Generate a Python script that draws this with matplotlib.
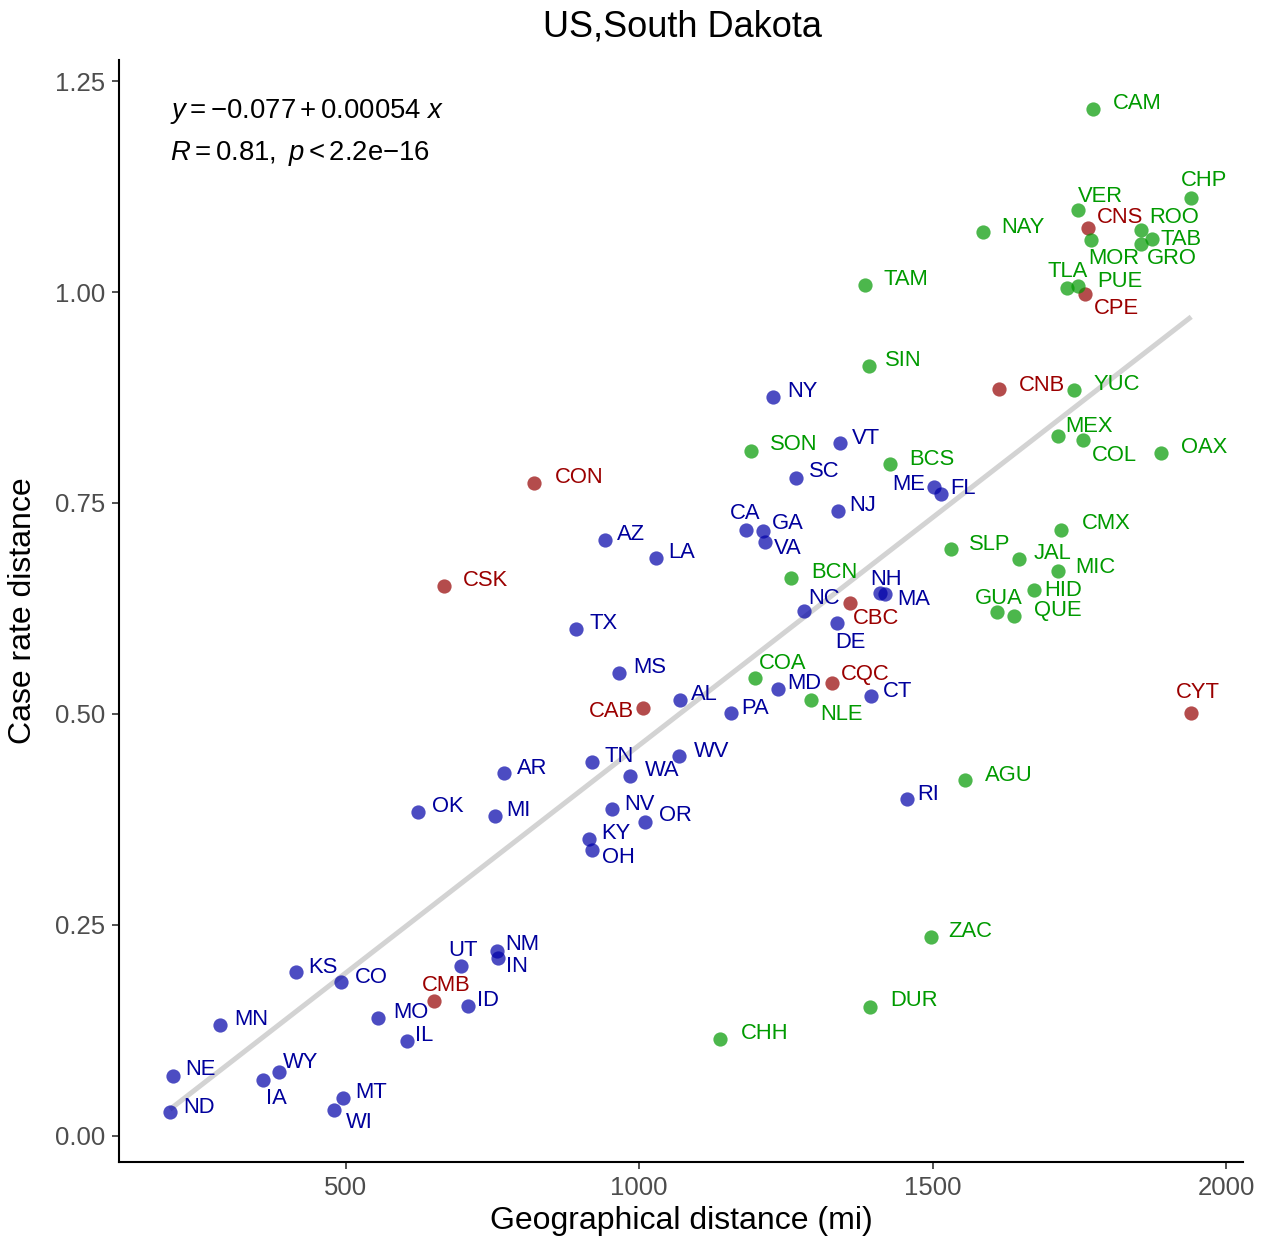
import numpy as np
import matplotlib.pyplot as plt

plt.rcParams['font.family'] = ['Liberation Sans', 'DejaVu Sans']
plt.rcParams['mathtext.fontset'] = 'custom'
plt.rcParams['mathtext.rm'] = 'Liberation Sans'
plt.rcParams['mathtext.it'] = 'Liberation Sans:italic'

# US states
us_names = ['ND', 'NE', 'MN', 'IA', 'WY', 'KS', 'CO', 'WI', 'MT', 'MO', 'IL', 'UT',
            'NM', 'IN', 'ID', 'OK', 'MI', 'AR', 'TN', 'WA', 'WV', 'NV', 'OR', 'KY',
            'OH', 'MS', 'AL', 'PA', 'MD', 'CT', 'TX', 'AZ', 'LA', 'CA', 'GA', 'VA',
            'NC', 'DE', 'NH', 'MA', 'NJ', 'SC', 'VT', 'NY', 'ME', 'FL', 'RI']
us_geo = [201, 206, 286, 359, 386, 415, 492, 480, 495, 556, 605, 697,
          757, 759, 709, 624, 755, 770, 920, 985, 1068, 954, 1010, 915,
          920, 966, 1070, 1156, 1236, 1395, 893, 942, 1029, 1182, 1211, 1214,
          1281, 1337, 1410, 1418, 1338, 1267, 1342, 1228, 1502, 1514, 1456]
us_case = [0.028, 0.071, 0.131, 0.066, 0.076, 0.194, 0.182, 0.031, 0.045, 0.140, 0.113, 0.201,
           0.219, 0.211, 0.154, 0.384, 0.379, 0.430, 0.443, 0.427, 0.450, 0.387, 0.372, 0.352,
           0.339, 0.549, 0.517, 0.501, 0.530, 0.521, 0.601, 0.706, 0.685, 0.718, 0.717, 0.704,
           0.622, 0.608, 0.643, 0.642, 0.741, 0.780, 0.821, 0.876, 0.769, 0.761, 0.399]

# Canadian provinces
ca_names = ['CSK', 'CON', 'CAB', 'CMB', 'CQC', 'CBC', 'CNB', 'CNS', 'CPE', 'CYT']
ca_geo = [668, 820, 1007, 651, 1328, 1359, 1612, 1765, 1759, 1940]
ca_case = [0.652, 0.774, 0.507, 0.160, 0.537, 0.632, 0.885, 1.076, 0.998, 0.501]

# Mexican states
mx_names = ['CAM', 'CHP', 'VER', 'NAY', 'ROO', 'TAB', 'GRO', 'MOR', 'TLA', 'PUE',
            'TAM', 'SIN', 'YUC', 'MEX', 'COL', 'OAX', 'SON', 'BCS', 'CMX', 'SLP',
            'JAL', 'MIC', 'HID', 'GUA', 'QUE', 'BCN', 'COA', 'NLE', 'AGU', 'ZAC',
            'DUR', 'CHH']
mx_geo = [1772, 1940, 1748, 1585, 1854, 1874, 1855, 1770, 1728, 1747,
          1384, 1391, 1740, 1713, 1755, 1888, 1190, 1427, 1718, 1531,
          1646, 1713, 1673, 1610, 1638, 1259, 1197, 1293, 1554, 1497,
          1393, 1138]
mx_case = [1.217, 1.111, 1.097, 1.071, 1.073, 1.063, 1.057, 1.062, 1.005, 1.007,
           1.008, 0.912, 0.884, 0.829, 0.825, 0.809, 0.812, 0.796, 0.718, 0.695,
           0.684, 0.669, 0.647, 0.621, 0.616, 0.661, 0.543, 0.517, 0.422, 0.236,
           0.153, 0.115]

intercept = -0.077
slope = 0.00054

# label offsets in pixels (right, down) from each point
offsets = {
    'ND': (29, -7), 'NE': (27, -8), 'MN': (31, -8), 'IA': (14, 16), 'WY': (22, -11),
    'KS': (27, -7), 'CO': (30, -7), 'WI': (25, 11), 'MT': (28, -7), 'MO': (32, -7),
    'IL': (17, -7), 'UT': (2, -18), 'NM': (26, -9), 'IN': (19, 7), 'ID': (20, -7),
    'CMB': (12, -17), 'OK': (29, -7), 'MI': (23, -8), 'AR': (28, -7), 'TN': (27, -8),
    'WA': (32, -7), 'WV': (32, -7), 'NV': (27, -7), 'OR': (30, -8), 'KY': (27, -7),
    'OH': (26, 6), 'MS': (30, -7), 'CAB': (-32, 1), 'AL': (24, -7), 'PA': (24, -7),
    'MD': (26, -7), 'CT': (26, -7), 'CQC': (33, -10), 'COA': (28, -16), 'NLE': (30, 13),
    'TX': (27, -7), 'AZ': (26, -8), 'LA': (25, -7), 'CA': (-1, -18), 'GA': (25, -9),
    'VA': (23, 5), 'NC': (20, -15), 'DE': (13, 18), 'NH': (6, -16), 'MA': (29, 3),
    'CBC': (26, 14), 'BCN': (43, -8), 'NJ': (25, -7), 'SC': (28, -8), 'VT': (26, -7),
    'SON': (43, -8), 'BCS': (42, -7), 'ME': (-25, -4), 'FL': (22, -7), 'NY': (29, -7),
    'CON': (46, -7), 'CSK': (41, -7), 'RI': (21, -7), 'AGU': (44, -6), 'ZAC': (39, -7),
    'DUR': (44, -8), 'CHH': (44, -7), 'CYT': (7, -23), 'SIN': (34, -8), 'TAM': (41, -8),
    'NAY': (40, -7), 'CAM': (45, -7), 'VER': (22, -16), 'CNS': (32, -12), 'ROO': (33, -15),
    'CHP': (13, -20), 'TAB': (29, -1), 'GRO': (31, 13), 'MOR': (22, 17), 'TLA': (1, -18),
    'PUE': (42, -7), 'CPE': (32, 13), 'CNB': (43, -6), 'YUC': (43, -7), 'MEX': (31, -12),
    'COL': (32, 14), 'OAX': (43, -8), 'CMX': (45, -8), 'SLP': (39, -7), 'JAL': (34, -7),
    'MIC': (37, -6), 'HID': (29, -1), 'GUA': (1, -15), 'QUE': (44, -8),
}

fig = plt.figure(figsize=(12.68, 12.41), dpi=100)
ax = fig.add_axes([0.0938, 0.0636, 0.8864, 0.8881])

all_geo = us_geo + ca_geo + mx_geo
xs = np.array([min(all_geo), max(all_geo)])
ax.plot(xs, intercept + slope * xs, color='#d3d3d3', lw=3.6, zorder=1,
        solid_capstyle='butt')

groups = [
    (us_names, us_geo, us_case, '#0000a8', '#00009c'),
    (ca_names, ca_geo, ca_case, '#950000', '#9b0000'),
    (mx_names, mx_geo, mx_case, '#009900', '#009a00'),
]
for names, gx, gy, dot_col, txt_col in groups:
    ax.scatter(gx, gy, s=105, color=dot_col, alpha=0.7, linewidths=0, zorder=2)
    for n, x, y in zip(names, gx, gy):
        dx, dy = offsets[n]
        ax.annotate(n, (x, y), xytext=(dx, -dy - 2), textcoords='offset pixels',
                    ha='center', va='center', fontsize=15.8, color=txt_col, zorder=3)

ax.set_xlim(114, 2028)
ax.set_ylim(-0.031, 1.275)
ax.set_xticks([500, 1000, 1500, 2000])
ax.set_yticks([0.0, 0.25, 0.5, 0.75, 1.0, 1.25])
ax.set_yticklabels(['0.00', '0.25', '0.50', '0.75', '1.00', '1.25'])
for s in ['top', 'right']:
    ax.spines[s].set_visible(False)
for s in ['left', 'bottom']:
    ax.spines[s].set_linewidth(1.5)
ax.tick_params(length=5, width=1.2, color='#333333', labelsize=18.5,
               labelcolor='#4d4d4d', pad=5)

ax.set_xlabel('Geographical distance (mi)', fontsize=23, labelpad=4)
ax.set_ylabel('Case rate distance', fontsize=23, labelpad=12)

ax.text(0.045, 0.953, r'$y = -0.077 + 0.00054\ x$', transform=ax.transAxes,
        fontsize=19.8, va='center', ha='left')
ax.text(0.045, 0.915, r'$R = 0.81,\ p < 2.2\mathrm{e}{-}16$', transform=ax.transAxes,
        fontsize=19.8, va='center', ha='left')

fig.text(0.538, 0.978, 'US,South Dakota', fontsize=26, ha='center', va='center')

fig.savefig('out.png', dpi=100)
